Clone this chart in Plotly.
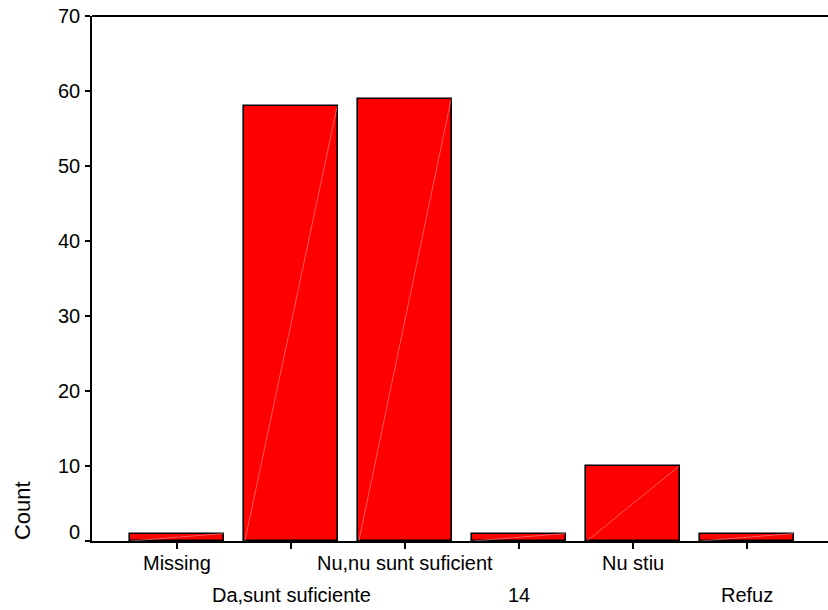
import plotly.graph_objects as go

categories = ["Missing", "Da,sunt suficiente", "Nu,nu sunt suficient", "14", "Nu stiu", "Refuz"]
counts = [1, 58, 59, 1, 10, 1]
y_ticks = [0, 10, 20, 30, 40, 50, 60, 70]
y_tick_labels = ["0", "10", "20", "30", "40", "50", "60", "70"]

FONT = "Arial, 'Liberation Sans', sans-serif"
BAR_W = 0.83
xs = list(range(len(categories)))

fig = go.Figure()
fig.add_trace(go.Bar(
    x=xs, y=counts, width=BAR_W,
    marker=dict(color="#FF0000", line=dict(color="black", width=1.6)),
    hoverinfo="skip", showlegend=False,
))

# faint diagonal shading seams inside each bar (bottom-left to top-right)
dx, dy = [], []
for i, v in zip(xs, counts):
    dx += [i - BAR_W / 2 + 0.01, i + BAR_W / 2 - 0.01, None]
    dy += [0, v, None]
fig.add_trace(go.Scatter(
    x=dx, y=dy, mode="lines",
    line=dict(color="rgba(255,190,190,0.8)", width=0.6),
    hoverinfo="skip", showlegend=False,
))

# staggered category labels
for i, name in enumerate(categories):
    fig.add_annotation(
        x=i, y=0, xref="x", yref="paper",
        text=name, showarrow=False,
        yanchor="middle", xanchor="center",
        yshift=-22 if i % 2 == 0 else -54,
        font=dict(family=FONT, size=20, color="black"),
    )

# y tick labels (the "0" sits slightly above its tick, as in the original)
for v, lab in zip(y_ticks, y_tick_labels):
    fig.add_annotation(
        x=0, y=v, xref="paper", yref="y",
        text=lab, showarrow=False,
        xanchor="right", yanchor="middle", xshift=-10,
        yshift=9 if v == 0 else 0,
        font=dict(family=FONT, size=20, color="black"),
    )

fig.add_annotation(
    x=0, y=0.057, xref="paper", yref="paper",
    text="Count", showarrow=False, textangle=-90,
    xanchor="center", yanchor="middle", xshift=-70,
    font=dict(family=FONT, size=22, color="black"),
)

fig.update_layout(
    width=828, height=610,
    margin=dict(l=92, r=0, t=16, b=69),
    paper_bgcolor="white", plot_bgcolor="white",
    font=dict(family=FONT, size=20, color="black"),
    bargap=0,
)
fig.update_xaxes(
    range=[-0.746, 5.71], tickvals=xs, ticktext=[""] * len(xs),
    showgrid=False, zeroline=False,
    showline=True, linecolor="black", linewidth=2,
    ticks="outside", ticklen=6, tickwidth=1.5, tickcolor="black",
    mirror=False,
)
fig.update_yaxes(
    range=[0, 70], tickvals=y_ticks, ticktext=[""] * len(y_ticks),
    showgrid=False, zeroline=False,
    showline=True, linecolor="black", linewidth=2,
    ticks="outside", ticklen=5, tickwidth=1.5, tickcolor="black",
)
# top border line
fig.add_shape(type="line", xref="paper", yref="paper", x0=0, x1=1, y0=1, y1=1,
              line=dict(color="black", width=2))

fig.write_html(
    "out.html",
    config={"displayModeBar": False},
    post_script="document.body.style.margin='0';document.body.style.overflow='hidden';",
)
